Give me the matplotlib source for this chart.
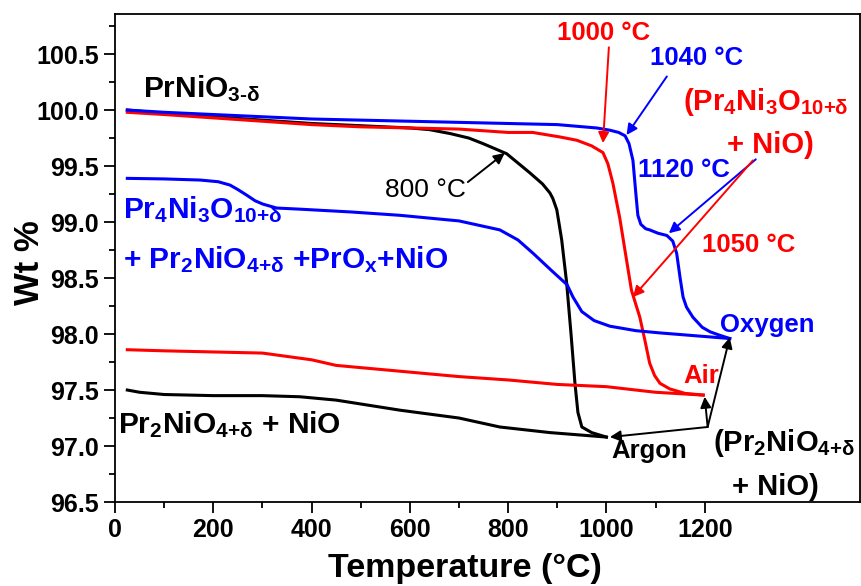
import numpy as np
import matplotlib.pyplot as plt

plt.rcParams['font.family'] = ['Liberation Sans', 'DejaVu Sans']
plt.rcParams['mathtext.fontset'] = 'custom'
plt.rcParams['mathtext.rm'] = 'Liberation Sans:bold'
plt.rcParams['mathtext.it'] = 'Liberation Sans:bold'
plt.rcParams['mathtext.bf'] = 'Liberation Sans:bold'

# Argon (black)
t_ar_heat = [25, 100, 200, 300, 400, 500, 600, 640, 682, 720, 749, 797, 844, 870, 885, 891, 899,
             905, 909, 919, 928, 936, 942, 950, 970, 1000]
w_ar_heat = [100.0, 99.97, 99.94, 99.91, 99.88, 99.86, 99.84, 99.825, 99.79, 99.75, 99.70, 99.61,
             99.44, 99.34, 99.26, 99.21, 99.11, 98.95, 98.84, 98.46, 98.0, 97.56, 97.3, 97.17,
             97.12, 97.08]
t_ar_cool = [25, 50, 100, 200, 300, 376, 450, 580, 700, 783, 885, 1000]
w_ar_cool = [97.50, 97.48, 97.46, 97.45, 97.45, 97.44, 97.41, 97.32, 97.25, 97.17, 97.12, 97.08]

# Air (red)
t_air_heat = [25, 100, 200, 300, 400, 500, 600, 700, 800, 850, 905, 940, 970, 993, 1003, 1013,
              1027, 1041, 1051, 1068, 1078, 1088, 1098, 1109, 1129, 1160, 1197]
w_air_heat = [99.98, 99.96, 99.93, 99.90, 99.87, 99.85, 99.84, 99.83, 99.80, 99.80, 99.76, 99.73,
              99.68, 99.62, 99.52, 99.35, 99.04, 98.66, 98.39, 98.15, 97.95, 97.74, 97.63, 97.56,
              97.51, 97.47, 97.455]
t_air_cool = [25, 100, 200, 300, 350, 400, 450, 500, 600, 700, 800, 900, 1000, 1100, 1197]
w_air_cool = [97.86, 97.85, 97.84, 97.83, 97.80, 97.77, 97.72, 97.70, 97.66, 97.62, 97.59, 97.55,
              97.53, 97.48, 97.455]

# Oxygen (blue)
t_ox_heat = [25, 100, 200, 300, 400, 500, 600, 700, 800, 900, 980, 1007, 1025, 1038, 1046, 1054,
             1060, 1064, 1070, 1080, 1088, 1105, 1123, 1135, 1143, 1150, 1156, 1163, 1176, 1195,
             1211, 1230, 1251]
w_ox_heat = [100.0, 99.98, 99.96, 99.94, 99.92, 99.91, 99.90, 99.89, 99.88, 99.87, 99.84, 99.82,
             99.80, 99.77, 99.70, 99.55, 99.25, 99.06, 98.98, 98.94, 98.93, 98.90, 98.88, 98.83,
             98.72, 98.5, 98.33, 98.24, 98.15, 98.06, 98.02, 97.99, 97.96]
t_ox_cool = [25, 100, 173, 210, 234, 250, 268, 285, 301, 329, 376, 480, 580, 700, 783, 820, 851,
             890, 920, 932, 950, 975, 1007, 1060, 1109, 1180, 1251]
w_ox_cool = [99.39, 99.385, 99.375, 99.36, 99.33, 99.29, 99.24, 99.19, 99.16, 99.125, 99.115,
             99.09, 99.06, 99.01, 98.93, 98.84, 98.72, 98.56, 98.44, 98.33, 98.2, 98.12, 98.07,
             98.03, 98.01, 97.985, 97.96]

fig = plt.figure(figsize=(8.61, 5.86), dpi=100)
ax = fig.add_axes([0.1336, 0.1433, 0.8652, 0.8327])

lw = 2.2
ax.plot(t_ar_heat, w_ar_heat, color='black', lw=lw)
ax.plot(t_ar_cool, w_ar_cool, color='black', lw=lw)
ax.plot(t_air_heat, w_air_heat, color='#ff0000', lw=lw)
ax.plot(t_air_cool, w_air_cool, color='#ff0000', lw=lw)
ax.plot(t_ox_heat, w_ox_heat, color='#0000ff', lw=lw)
ax.plot(t_ox_cool, w_ox_cool, color='#0000ff', lw=lw)

ax.set_xlim(0, 1516)
ax.set_ylim(96.5, 100.857)
ax.set_xticks(np.arange(0, 1201, 200))
ax.set_xticks(np.arange(100, 1101, 200), minor=True)
ax.set_yticks(np.arange(96.5, 100.51, 0.5))
ax.set_yticks(np.arange(96.75, 100.8, 0.5), minor=True)
ax.set_yticklabels(['%.1f' % v for v in np.arange(96.5, 100.51, 0.5)])
ax.tick_params(which='both', direction='out', top=False, right=False, width=1.3)
ax.tick_params(which='major', length=8, labelsize=18)
ax.tick_params(which='minor', length=4.5)
for lab in ax.get_xticklabels() + ax.get_yticklabels():
    lab.set_fontweight('bold')
for s in ax.spines.values():
    s.set_linewidth(1.3)

ax.set_xlabel('Temperature (°C)', fontsize=24.5, fontweight='bold')
ax.set_ylabel('Wt %', fontsize=25, fontweight='bold')
ax.xaxis.set_label_coords(0.47, -0.104)
ax.yaxis.set_label_coords(-0.092, 0.49)

big = 21.5
med = 18.5
blue = '#0000ff'
red = '#ff0000'
ax.text(57, 100.116, r'PrNiO$_{3\text{-}\delta}$', fontsize=big, fontweight='bold', color='black')
ax.text(16, 99.036, r'Pr$_4$Ni$_3$O$_{10\text{+}\delta}$', fontsize=big, fontweight='bold', color=blue)
ax.text(16, 98.59, r'+ Pr$_2$NiO$_{4\text{+}\delta}$ +PrO$_x$+NiO', fontsize=big, fontweight='bold',
        color=blue)
ax.text(6, 97.116, r'Pr$_2$NiO$_{4\text{+}\delta}$ + NiO', fontsize=big, fontweight='bold', color='black')
ax.text(549, 99.22, '800 °C', fontsize=19, color='black')
ax.text(899, 100.625, '1000 °C', fontsize=med, fontweight='bold', color=red)
ax.text(1088, 100.40, '1040 °C', fontsize=med, fontweight='bold', color=blue)
ax.text(1156, 100.0, r'(Pr$_4$Ni$_3$O$_{10\text{+}\delta}$', fontsize=21, fontweight='bold', color=red)
ax.text(1245, 99.62, '+ NiO)', fontsize=21, fontweight='bold', color=red)
ax.text(1064, 99.40, '1120 °C', fontsize=med, fontweight='bold', color=blue)
ax.text(1194, 98.73, '1050 °C', fontsize=med, fontweight='bold', color=red)
ax.text(1231, 98.02, 'Oxygen', fontsize=med, fontweight='bold', color=blue)
ax.text(1156, 97.56, 'Air', fontsize=med, fontweight='bold', color=red)
ax.text(1011, 96.89, 'Argon', fontsize=med, fontweight='bold', color='black')
ax.text(1217, 96.96, r'(Pr$_2$NiO$_{4\text{+}\delta}$', fontsize=21, fontweight='bold', color='black')
ax.text(1255, 96.56, '+ NiO)', fontsize=21, fontweight='bold', color='black')

def arrow(tail, tip, color):
    ax.annotate('', xy=tip, xytext=tail,
                arrowprops=dict(arrowstyle='-|>', color=color, lw=1.4, mutation_scale=16,
                                shrinkA=0, shrinkB=0))

arrow((718, 99.357), (793, 99.616), 'black')
arrow((1005, 100.56), (993, 99.705), red)
arrow((1123, 100.30), (1041, 99.777), blue)
arrow((1304, 99.56), (1127, 98.90), blue)
arrow((1298, 99.55), (1054, 98.33), red)
arrow((1206, 97.17), (1007, 97.08), 'black')
arrow((1206, 97.17), (1200, 97.44), 'black')
arrow((1206, 97.17), (1251, 97.97), 'black')

fig.savefig('out.png', dpi=100)
